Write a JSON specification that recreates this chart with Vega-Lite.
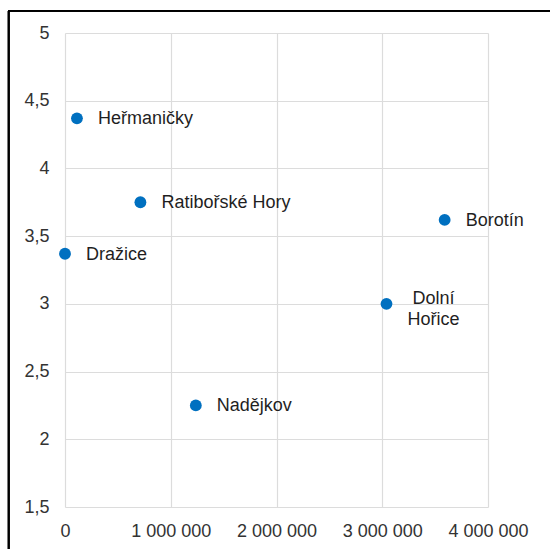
{
  "$schema": "https://vega.github.io/schema/vega-lite/v6.json",
  "autosize": "none",
  "width": 423,
  "height": 474,
  "padding": {"left": 65, "top": 33, "right": 62, "bottom": 42},
  "background": "white",
  "config": {
    "locale": {"number": {"decimal": ",", "thousands": " ", "grouping": [3], "currency": ["", " Kč"]}},
    "view": {"stroke": null},
    "font": "Liberation Sans",
    "axis": {
      "domain": false,
      "ticks": false,
      "grid": true,
      "gridColor": "#dcdcdc",
      "gridWidth": 1.2,
      "labelFont": "Liberation Sans",
      "labelFontSize": 18,
      "labelColor": "#333333",
      "title": null
    }
  },
  "data": {
    "values": [
      {"obec": "Heřmaničky", "hodnota": 113000, "skore": 4.37},
      {"obec": "Ratibořské Hory", "hodnota": 713000, "skore": 3.75},
      {"obec": "Dražice", "hodnota": 0, "skore": 3.37},
      {"obec": "Borotín", "hodnota": 3590000, "skore": 3.62},
      {"obec": "Dolní Hořice", "hodnota": 3040000, "skore": 3.0},
      {"obec": "Nadějkov", "hodnota": 1237000, "skore": 2.25}
    ]
  },
  "layer": [
    {
      "mark": {"type": "point", "filled": true, "size": 140, "color": "#0070C0", "opacity": 1, "clip": false},
      "encoding": {
        "x": {"field": "hodnota", "type": "quantitative", "scale": {"domain": [0, 4000000], "nice": false, "zero": false},
              "axis": {"values": [0, 1000000, 2000000, 3000000, 4000000], "format": ",d", "labelPadding": 15, "labelFlush": false, "grid": true}},
        "y": {"field": "skore", "type": "quantitative", "scale": {"domain": [1.5, 5], "nice": false, "zero": false},
              "axis": {"values": [1.5, 2, 2.5, 3, 3.5, 4, 4.5, 5], "format": ".1~f", "labelPadding": 16, "grid": true}}
      }
    },
    {
      "mark": {"type": "rule", "color": "black", "strokeWidth": 1.5, "clip": false},
      "encoding": {
        "x": {"datum": -533000, "type": "quantitative"},
        "x2": {"datum": 4700000},
        "y": {"datum": 5.165, "type": "quantitative"}
      }
    },
    {
      "mark": {"type": "rule", "color": "black", "strokeWidth": 1.5, "clip": false},
      "encoding": {
        "x": {"datum": -533000, "type": "quantitative"},
        "y": {"datum": 5.165, "type": "quantitative"},
        "y2": {"datum": 1.0}
      }
    },
    {
      "transform": [{"filter": "datum.obec !== 'Dolní Hořice'"}],
      "mark": {"type": "text", "align": "left", "baseline": "middle", "dx": 21, "dy": 1, "fontSize": 18, "color": "#1f1f1f", "font": "Liberation Sans"},
      "encoding": {
        "x": {"field": "hodnota", "type": "quantitative"},
        "y": {"field": "skore", "type": "quantitative"},
        "text": {"field": "obec"}
      }
    },
    {
      "transform": [{"filter": "datum.obec === 'Dolní Hořice'"}],
      "mark": {"type": "text", "align": "center", "baseline": "middle", "dx": 47, "dy": -5, "fontSize": 18, "lineHeight": 21, "lineBreak": " ", "color": "#1f1f1f", "font": "Liberation Sans"},
      "encoding": {
        "x": {"field": "hodnota", "type": "quantitative"},
        "y": {"field": "skore", "type": "quantitative"},
        "text": {"field": "obec"}
      }
    }
  ]
}
